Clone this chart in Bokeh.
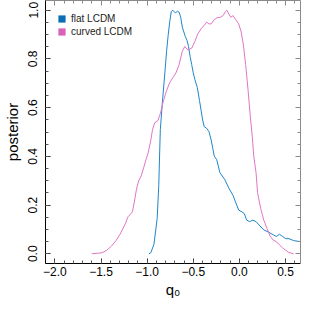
from bokeh.plotting import figure
from bokeh.models import FixedTicker, LinearAxis, Legend, LegendItem, Range1d
from bokeh.embed import file_html
from bokeh.resources import INLINE

# flat LCDM posterior
q0_flat = [-0.98, -0.96, -0.926, -0.891, -0.874, -0.857, -0.83, -0.806, -0.789, -0.772,
           -0.755, -0.738, -0.721, -0.694, -0.67, -0.653, -0.636, -0.619, -0.602, -0.585,
           -0.568, -0.551, -0.534, -0.517, -0.5, -0.483, -0.456, -0.432, -0.415, -0.398,
           -0.381, -0.354, -0.33, -0.306, -0.289, -0.272, -0.245, -0.211, -0.16, -0.109,
           -0.068, -0.041, -0.007, 0.028, 0.054, 0.079, 0.112, 0.146, 0.181, 0.214,
           0.265, 0.316, 0.367, 0.401, 0.436, 0.469, 0.503, 0.538, 0.589, 0.64, 0.66]
post_flat = [0.0, 0.004, 0.039, 0.145, 0.28, 0.51, 0.643, 0.751, 0.832, 0.897,
             0.953, 0.995, 1.0, 0.989, 0.996, 0.992, 0.971, 0.931, 0.911, 0.891,
             0.877, 0.851, 0.81, 0.777, 0.743, 0.716, 0.683, 0.629, 0.589, 0.549,
             0.522, 0.515, 0.502, 0.468, 0.435, 0.401, 0.386, 0.333, 0.306, 0.266,
             0.239, 0.212, 0.179, 0.172, 0.165, 0.138, 0.132, 0.138, 0.132, 0.118,
             0.098, 0.089, 0.078, 0.071, 0.080, 0.071, 0.062, 0.062, 0.054, 0.051, 0.050]

# curved LCDM posterior
q0_curved = [-1.6, -1.541, -1.49, -1.439, -1.388, -1.337, -1.286, -1.235, -1.207, -1.184,
             -1.16, -1.139, -1.115, -1.092, -1.064, -1.038, -1.013, -0.99, -0.959, -0.942,
             -0.918, -0.885, -0.857, -0.823, -0.789, -0.755, -0.721, -0.687, -0.653, -0.619,
             -0.592, -0.558, -0.517, -0.483, -0.449, -0.415, -0.381, -0.354, -0.33, -0.306,
             -0.279, -0.245, -0.204, -0.177, -0.15, -0.136, -0.115, -0.092, -0.068, -0.041,
             -0.007, 0.02, 0.044, 0.068, 0.095, 0.119, 0.14, 0.156, 0.181, 0.197,
             0.232, 0.265, 0.299, 0.334, 0.367, 0.401, 0.436, 0.469, 0.503, 0.538, 0.589]
post_curved = [0.0, 0.002, 0.004, 0.014, 0.031, 0.054, 0.085, 0.125, 0.152, 0.161,
               0.172, 0.212, 0.266, 0.299, 0.32, 0.353, 0.386, 0.413, 0.468, 0.509,
               0.538, 0.546, 0.575, 0.629, 0.67, 0.703, 0.723, 0.743, 0.777, 0.831,
               0.851, 0.837, 0.844, 0.871, 0.904, 0.924, 0.938, 0.951, 0.944, 0.944,
               0.958, 0.969, 0.971, 0.978, 0.995, 1.0, 0.985, 0.971, 0.978, 0.962,
               0.944, 0.911, 0.857, 0.777, 0.67, 0.562, 0.482, 0.401, 0.333, 0.252,
               0.185, 0.138, 0.105, 0.072, 0.056, 0.05, 0.036, 0.024, 0.014, 0.005, 0.0]

series_labels = ["flat LCDM", "curved LCDM"]

x_ticks = [-2.0, -1.5, -1.0, -0.5, 0.0, 0.5]
x_tick_labels = ["\u22122.0", "\u22121.5", "\u22121.0", "\u22120.5", "0.0", "0.5"]
y_ticks = [0.0, 0.2, 0.4, 0.6, 0.8, 1.0]
y_tick_labels = ["0.0", "0.2", "0.4", "0.6", "0.8", "1.0"]
x_minor = [round(-2.1 + 0.1 * i, 2) for i in range(29)]
y_minor = [round(0.05 * i, 2) for i in range(21)]

FONT = "Liberation Sans"
LINE_BLUE = "#1f86c9"
LINE_PINK = "#e276c5"
LEG_BLUE = "#0a6fb2"
LEG_PINK = "#d862b8"
GRAY = "#8a8a8a"
NAN = float("nan")

p = figure(width=301, height=300,
           x_range=Range1d(-2.102, 0.663), y_range=Range1d(-0.04, 1.04),
           output_backend="svg", toolbar_location=None,
           min_border_left=37, min_border_right=1, min_border_top=0, min_border_bottom=0)
p.outline_line_color = None
p.grid.visible = False

def style_main(ax, ticks, minor, labels):
    ax.ticker = FixedTicker(ticks=ticks, minor_ticks=minor)
    ax.major_label_overrides = {t: l for t, l in zip(ticks, labels)}
    ax.axis_line_color = "black"
    ax.axis_line_width = 1
    ax.major_tick_in = 5
    ax.major_tick_out = 0
    ax.minor_tick_in = 3
    ax.minor_tick_out = 0
    ax.major_tick_line_color = "#333333"
    ax.minor_tick_line_color = "#555555"
    ax.major_label_text_font = FONT
    ax.major_label_text_font_size = "12px"
    ax.major_label_text_color = "black"
    ax.axis_label_text_font = FONT
    ax.axis_label_text_font_size = "15px"
    ax.axis_label_text_font_style = "normal"
    ax.axis_label_text_color = "black"

style_main(p.xaxis[0], x_ticks, x_minor, x_tick_labels)
style_main(p.yaxis[0], y_ticks, y_minor, y_tick_labels)
p.xaxis[0].axis_label = "q\u2080"
p.yaxis[0].axis_label = "posterior"
p.xaxis[0].major_label_standoff = 3
p.xaxis[0].axis_label_standoff = 2
p.yaxis[0].major_label_standoff = 8
p.yaxis[0].axis_label_standoff = 5
p.yaxis[0].major_label_orientation = "vertical"

for place, ticks, minor in (("above", x_ticks, x_minor), ("right", y_ticks, y_minor)):
    ax = LinearAxis(ticker=FixedTicker(ticks=ticks, minor_ticks=minor),
                    major_label_text_font_size="1px", major_label_text_color=None,
                    major_label_standoff=0,
                    major_tick_in=5, major_tick_out=0, minor_tick_in=3, minor_tick_out=0,
                    axis_line_color=GRAY, major_tick_line_color=GRAY,
                    minor_tick_line_color=GRAY)
    p.add_layout(ax, place)

p.line(q0_flat, post_flat, line_color=LINE_BLUE, line_width=1.0)
p.line(q0_curved, post_curved, line_color=LINE_PINK, line_width=1.0)

# legend swatches (no drawn data; used only for the legend glyphs)
leg_flat = p.quad(left=[NAN], right=[NAN], top=[NAN], bottom=[NAN],
                  fill_color=LEG_BLUE, line_color=None)
leg_curved = p.quad(left=[NAN], right=[NAN], top=[NAN], bottom=[NAN],
                    fill_color=LEG_PINK, line_color=None)

legend = Legend(items=[LegendItem(label=series_labels[0], renderers=[leg_flat]),
                       LegendItem(label=series_labels[1], renderers=[leg_curved])],
                location="top_left", margin=12, padding=0, spacing=1,
                glyph_width=9, glyph_height=9, label_height=12, label_width=10,
                label_standoff=5, label_text_font=FONT, label_text_font_size="10px",
                label_text_color="#222222",
                border_line_color=None, background_fill_alpha=0)
p.add_layout(legend)

open("out.html", "w").write(file_html(p, INLINE))
